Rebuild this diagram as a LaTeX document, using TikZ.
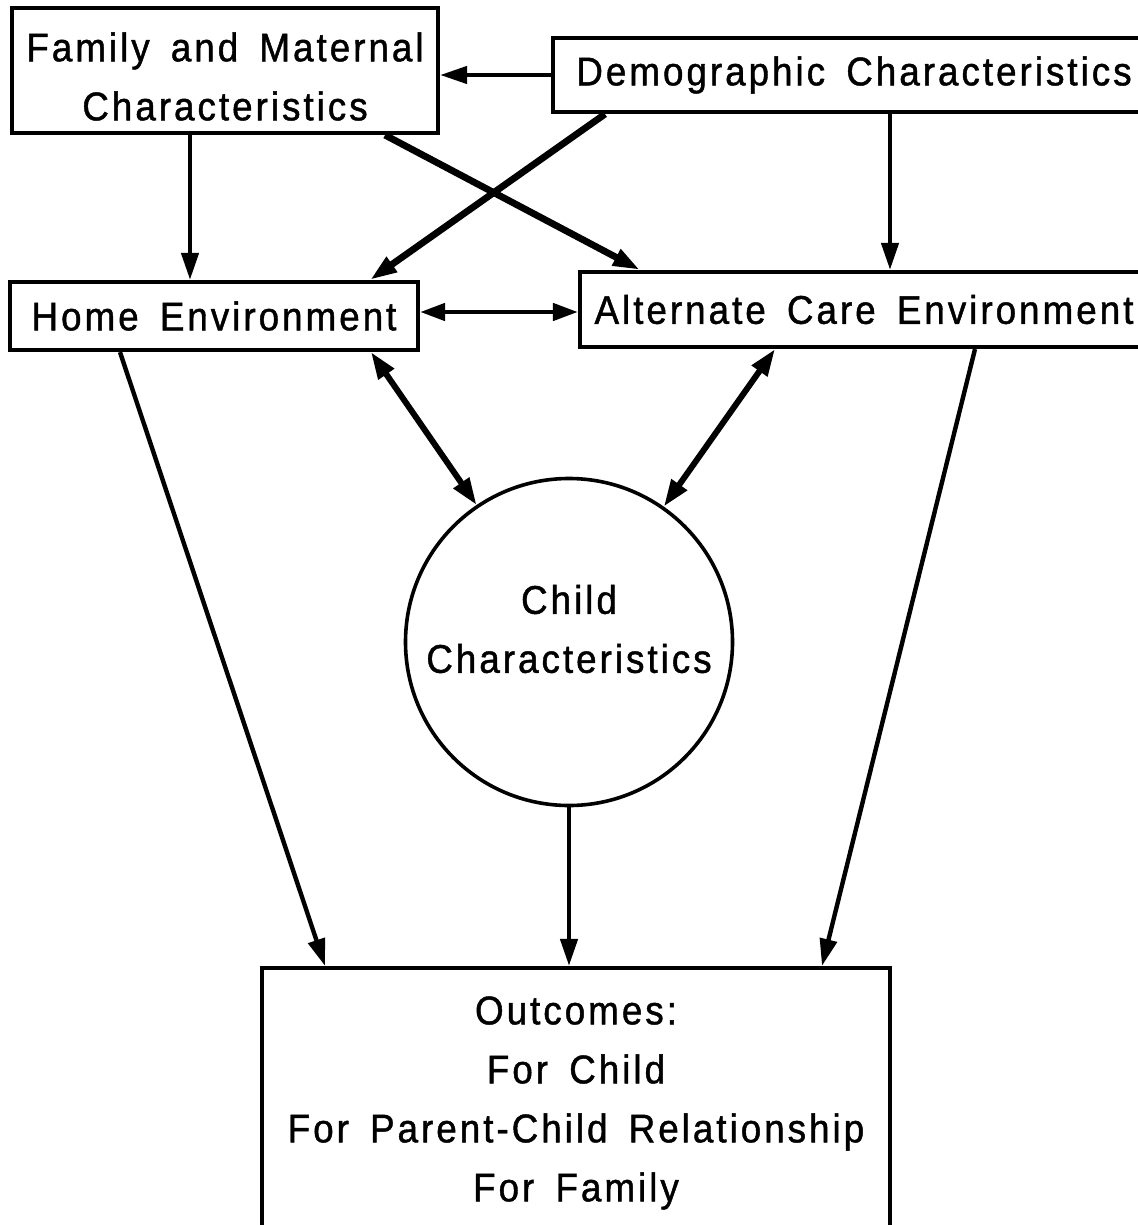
\documentclass[tikz,border=0pt]{standalone}
\usepackage{fontspec}
\setmainfont{Liberation Sans}[LetterSpace=7.5, WordSpace=1.6, FakeBold=1.1, FakeStretch=0.92]
\usetikzlibrary{arrows.meta}
\begin{document}
\begin{tikzpicture}[x=1pt,y=-1pt,
  lbl/.style={font=\fontsize{40}{59}\selectfont, align=center},
  box/.style={draw, line width=4.2pt, inner sep=0pt, lbl},
  arr/.style={line width=4.4pt, -{Triangle[length=27pt,width=17pt]}},
  arrbold/.style={arr, line width=6.8pt},
  arrboth/.style={line width=6pt, {Triangle[length=27pt,width=18pt]}-{Triangle[length=27pt,width=18pt]}},
  arrboththin/.style={line width=4.6pt, {Triangle[length=25pt,width=17pt]}-{Triangle[length=25pt,width=17pt]}}]
\useasboundingbox (0,0) rectangle (1137,1225);
\node[box, minimum width=426pt, minimum height=125pt] (fam) at (225,70.5) {};
\node[lbl] (famtxt) at ([yshift=-6pt]fam.center) {Family and Maternal\\Characteristics};
\node[box, minimum width=602pt, minimum height=74pt] (dem) at (854,75) {Demographic Characteristics};
\node[box, minimum width=408pt, minimum height=68pt] (home) at (214,316) {Home Environment};
\node[box, minimum width=568pt, minimum height=75pt] (alt) at (864,309.5) {Alternate Care Environment};
\node[draw, circle, line width=3.6pt, minimum size=327pt, inner sep=0pt] (child) at (569,642) {};
\node[lbl] (childtxt) at ([yshift=13pt]child.center) {Child\\Characteristics};
\node[box, minimum width=628pt, minimum height=262pt] (out) at (576,1099) {};
\node[lbl] (outtxt) at ([yshift=-4pt]out.center) {Outcomes:\\For Child\\For Parent-Child Relationship\\For Family};
% connectors
\draw[arr] (dem.west) -- (dem.west -| fam.east);
\draw[arr] ([xshift=-35pt]fam.south) -- ([xshift=-35pt]fam.south |- home.north);
\draw[arrbold] ([xshift=160pt]fam.south) -- ([xshift=-224pt]alt.north);
\draw[arrbold] ([xshift=-249pt]dem.south) -- ([xshift=156pt]home.north);
\draw[arr] ([xshift=36pt]dem.south) -- ([xshift=36pt]dem.south |- alt.north);
\draw[arrboththin] ([yshift=4pt]home.east) -- ([yshift=4pt]home.east -| alt.west);
\draw[arrboth] ([xshift=157pt]home.south) -- (child.124.5);
\draw[arrboth] ([xshift=-89pt]alt.south) -- (child.55);
\draw[arr] ([xshift=-94pt]home.south) -- ([xshift=-251pt]out.north);
\draw[arr] (child.south) -- (child.south |- out.north);
\draw[arr] ([xshift=111pt]alt.south) -- ([xshift=246pt]out.north);
\end{tikzpicture}
\end{document}
